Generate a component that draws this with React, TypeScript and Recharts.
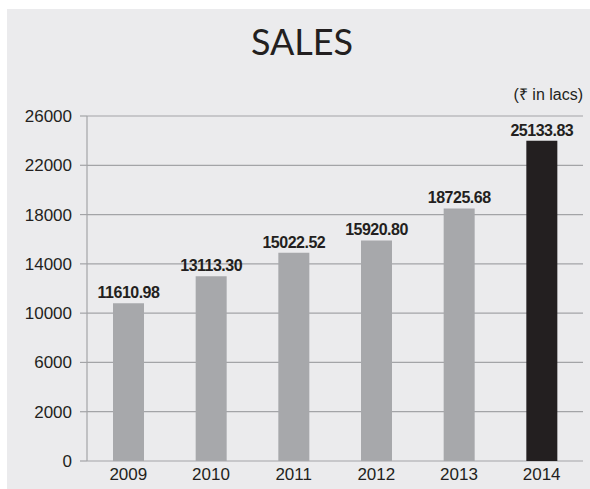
import React from 'react';
import { BarChart, Bar, XAxis, YAxis, CartesianGrid, Cell, LabelList } from 'recharts';

const years = ['2009', '2010', '2011', '2012', '2013', '2014'];
// bar heights as drawn (axis units), which differ from the printed labels
const barHeights = [12800, 15000, 16900, 17900, 20500, 26000];
const valueLabels = ['11610.98', '13113.30', '15022.52', '15920.80', '18725.68', '25133.83'];
const yTicks = [0, 4000, 8000, 12000, 16000, 20000, 24000, 28000];
const yTickLabels = ['0', '2000', '6000', '10000', '14000', '18000', '22000', '26000'];

const GREY = '#a7a8ab';
const DARK = '#231f20';
const LINE = '#a3a4a7';
const FONT = '"Liberation Sans", Arial, sans-serif';

const data = years.map((year, i) => ({
  year,
  value: barHeights[i],
  label: valueLabels[i],
}));

const edgeTicks = years.map((_, i) => i).concat(years.length);

const App: React.FC = () => {
  return (
    <div
      style={{
        position: 'absolute',
        left: 7,
        top: 9,
        width: 583,
        height: 480,
        background: '#ebebed',
        fontFamily: FONT,
      }}
    >
      <div
        style={{
          position: 'absolute',
          left: 0,
          top: 10,
          width: 590,
          textAlign: 'center',
          fontFamily: 'Lato, sans-serif',
          fontSize: 36,
          color: DARK,
        }}
      >
        SALES
      </div>
      <div
        style={{
          position: 'absolute',
          right: 7,
          top: 74,
          fontSize: 16,
          color: DARK,
        }}
      >
        (₹ in lacs)
      </div>
      <BarChart
        width={583}
        height={480}
        data={data}
        margin={{ top: 107, right: 7, bottom: 0, left: 0 }}
      >
        <CartesianGrid vertical={false} stroke={LINE} strokeWidth={1.2} />
        <XAxis
          xAxisId="edge"
          type="number"
          domain={[0, years.length]}
          ticks={edgeTicks}
          tick={false}
          tickSize={5}
          height={0}
          axisLine={{ stroke: LINE, strokeWidth: 1.2 }}
          tickLine={{ stroke: LINE, strokeWidth: 1.2 }}
        />
        <XAxis
          dataKey="year"
          axisLine={false}
          tickLine={false}
          height={28}
          tickMargin={1}
          tick={{ fill: DARK, fontSize: 17, fontFamily: FONT }}
        />
        <YAxis
          width={80}
          domain={[0, 28000]}
          ticks={yTicks}
          interval={0}
          tickFormatter={(v: number) => yTickLabels[yTicks.indexOf(v)]}
          tickSize={7}
          tickMargin={8}
          axisLine={{ stroke: LINE, strokeWidth: 1.2 }}
          tickLine={{ stroke: LINE, strokeWidth: 1.2 }}
          tick={{ fill: DARK, fontSize: 17, fontFamily: FONT }}
        />
        <Bar dataKey="value" barSize={31} isAnimationActive={false}>
          {data.map((d, i) => (
            <Cell key={d.year} fill={i === data.length - 1 ? DARK : GREY} />
          ))}
          <LabelList
            dataKey="label"
            position="top"
            offset={5}
            fill={DARK}
            fontSize={16}
            fontWeight="bold"
            fontFamily={FONT}
            style={{ letterSpacing: '-0.5px' }}
          />
        </Bar>
      </BarChart>
    </div>
  );
};

export default App;
